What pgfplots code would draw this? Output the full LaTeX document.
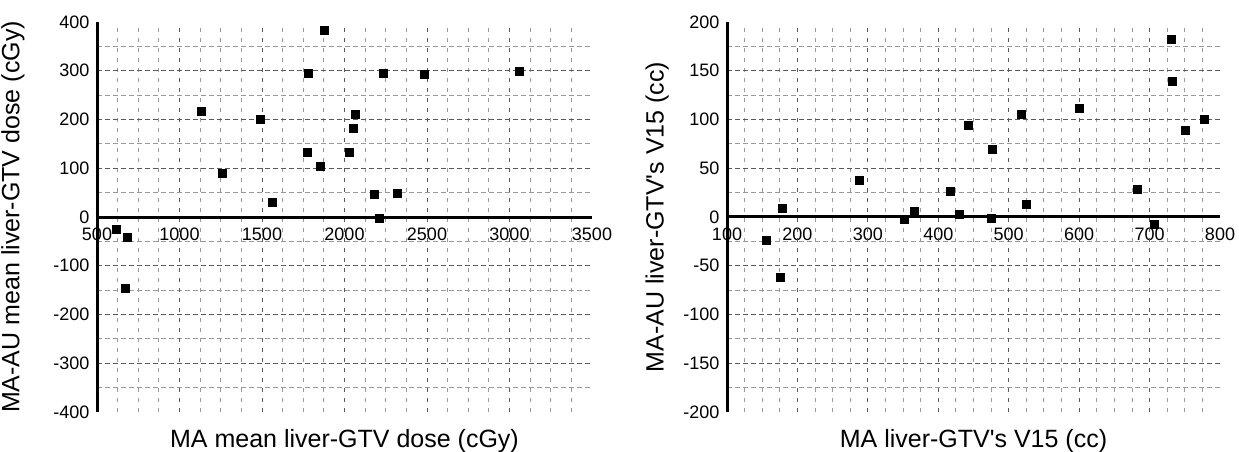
\documentclass[border=0pt]{standalone}
\usepackage{pgfplots}
\pgfplotsset{compat=1.18}
\usepackage{pgfplotstable}
\usepackage{fontspec}
\setmainfont{Liberation Sans}[Ligatures=TeXOff]

% dose: MA mean liver-GTV dose vs MA-AU difference
\pgfplotstableread{
x y
616 -26
686 -41
671 -146
1134 218
1259 90
1488 201
1560 31
1772 132
1780 296
1854 104
1876 384
2028 133
2052 183
2066 211
2182 46
2208 -2
2235 294
2317 49
2486 293
3059 299
}\dosedata

% V15: MA liver-GTV's V15 vs MA-AU difference
\pgfplotstableread{
x y
155 -24
178 9
175 -62
288 38
351 -2
366 6
417 26
430 3
443 94
475 -1
476 70
518 105
525 13
600 112
683 29
706 -7
731 182
732 139
750 89
777 100
}\vdata

\definecolor{gmaj}{gray}{0.35}
\definecolor{gmin}{gray}{0.6}

\tikzset{axlines/.style={line width=3pt, black, line cap=butt}}

\pgfplotsset{
  scatterbase/.style={
    scale only axis,
    height=390pt,
    axis x line=middle,
    axis y line=left,
    every inner x axis line/.append style={-},
    every outer y axis line/.append style={-},
    axis line style={draw=none},
    hide obscured x ticks=false,
    hide obscured y ticks=false,
    major tick length=0pt,
    minor tick length=0pt,
    xmajorgrids=false, ymajorgrids=false,
    xminorgrids=true, yminorgrids=true,
    extra x tick style={xmajorgrids=true, major tick length=0pt},
    extra y tick style={ymajorgrids=true, major tick length=0pt},
    extra x tick labels={},
    extra y tick labels={},
    major x grid style={gmaj, line width=1pt, dash pattern=on 4pt off 6pt},
    minor x grid style={gmin, line width=0.9pt, dash pattern=on 4pt off 6pt},
    major y grid style={gmaj, line width=1pt, dash pattern=on 5pt off 3pt},
    minor y grid style={gmin, line width=0.9pt, dash pattern=on 5pt off 3pt},
    tick label style={font=\fontsize{18}{20}\selectfont, black},
    /pgf/number format/assume math mode=true,
    /pgf/number format/set thousands separator={},
    xticklabel style={yshift=-7pt},
    yticklabel style={xshift=-4pt},
    label style={font=\fontsize{25}{29}\selectfont},
    xlabel style={at={(axis description cs:0.5,0)}, anchor=base, yshift=-35pt},
    clip=false,
  },
}

\begin{document}
\begin{tikzpicture}
\useasboundingbox (0,0) rectangle (1239pt,452pt);

\begin{axis}[
  scatterbase,
  at={(97pt,40pt)}, anchor=south west,
  width=495pt,
  xmin=500, xmax=3500,
  ymin=-400, ymax=400,
  xtick={500,1000,...,3500},
  ytick={-400,-300,...,400},
  extra x ticks={1000,1500,...,3000},
  extra y ticks={-300,-200,-100,100,200,300},
  minor x tick num=3,
  minor y tick num=1,
  xlabel={MA mean liver-GTV dose (cGy)},
  ylabel={MA-AU mean liver-GTV dose (cGy)},
  ylabel style={at={(axis description cs:-0.1566,0.5)}, anchor=base, rotate=0},
]
\draw[axlines] (axis cs:500,-400) -- (axis cs:500,400);
\draw[axlines] (axis cs:500,0) -- (axis cs:3500,0);
\addplot[only marks, mark=square*, mark size=4pt, black] table[x=x, y=y] {\dosedata};
\end{axis}

\begin{axis}[
  scatterbase,
  at={(727pt,40pt)}, anchor=south west,
  width=493pt,
  xmin=100, xmax=800,
  ymin=-200, ymax=200,
  xtick={100,200,...,800},
  ytick={-200,-150,...,200},
  extra x ticks={200,300,...,700},
  extra y ticks={-150,-100,-50,50,100,150},
  minor x tick num=3,
  minor y tick num=1,
  xlabel={MA liver-GTV's V15 (cc)},
  ylabel={MA-AU liver-GTV's V15 (cc)},
  ylabel style={at={(axis description cs:-0.1288,0.5)}, anchor=base, rotate=0},
]
\draw[axlines] (axis cs:100,-200) -- (axis cs:100,200);
\draw[axlines] (axis cs:100,0) -- (axis cs:800,0);
\addplot[only marks, mark=square*, mark size=4pt, black] table[x=x, y=y] {\vdata};
\end{axis}
\end{tikzpicture}
\end{document}
